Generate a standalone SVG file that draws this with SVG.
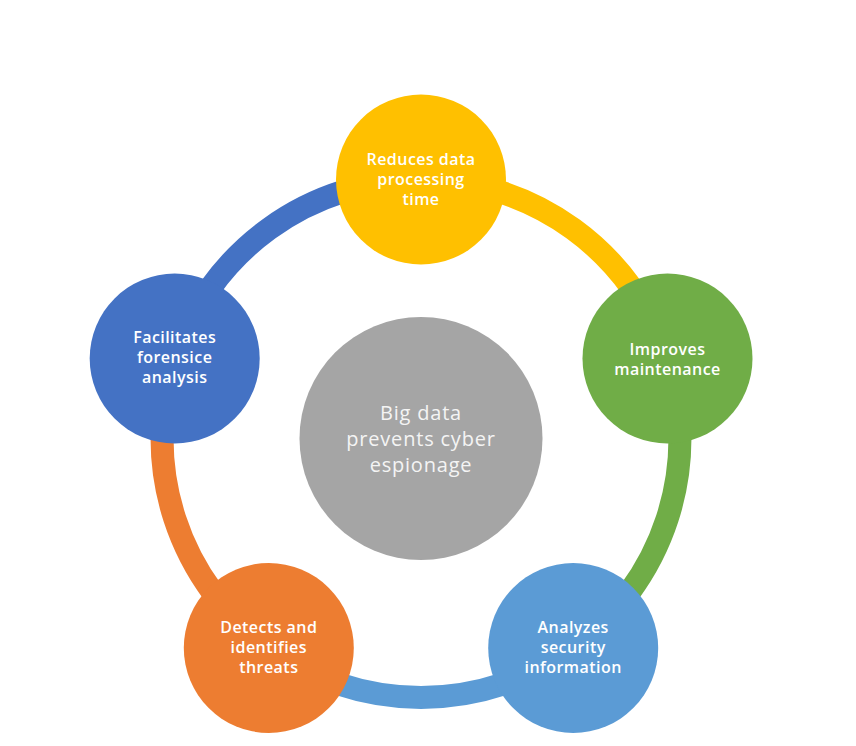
<svg xmlns="http://www.w3.org/2000/svg" width="856" height="746" viewBox="0 0 856 746">
<style>
.ring{fill:none;stroke-width:23;stroke-linecap:butt}
.lbl{font-family:"Open Sans","Noto Sans","Liberation Sans",sans-serif;font-size:16px;font-weight:600;letter-spacing:0.45px;fill:#ffffff;text-anchor:middle}
.ctr{font-family:"Open Sans","Noto Sans","Liberation Sans",sans-serif;font-size:20px;font-weight:400;letter-spacing:0.8px;fill:#f4f4f4;text-anchor:middle}
</style>
<rect width="856" height="746" fill="#ffffff"/>
<g id="connectors">
<path class="ring" stroke="#FFC000" d="M421 179.5 A259 259 0 0 1 667.3 358.5"/>
<path class="ring" stroke="#70AD47" d="M667.3 358.5 A259 259 0 0 1 573.2 648"/>
<path class="ring" stroke="#5B9BD5" d="M573.2 648 A259 259 0 0 1 268.8 648"/>
<path class="ring" stroke="#ED7D31" d="M268.8 648 A259 259 0 0 1 174.7 358.5"/>
<path class="ring" stroke="#4472C4" d="M174.7 358.5 A259 259 0 0 1 421 179.5"/>
</g>
<g id="center">
<circle cx="421" cy="438.5" r="121.5" fill="#A5A5A5"/>
<text class="ctr" x="421" y="420">Big data</text>
<text class="ctr" x="421" y="446">prevents cyber</text>
<text class="ctr" x="421" y="472">espionage</text>
</g>
<g id="node-reduces">
<circle cx="421" cy="179.5" r="85" fill="#FFC000"/>
<text class="lbl" x="421" y="165">Reduces data</text>
<text class="lbl" x="421" y="185">processing</text>
<text class="lbl" x="421" y="205">time</text>
</g>
<g id="node-improves">
<circle cx="667.5" cy="358.5" r="85" fill="#70AD47"/>
<text class="lbl" x="667.5" y="355">Improves</text>
<text class="lbl" x="667.5" y="375">maintenance</text>
</g>
<g id="node-analyzes">
<circle cx="573.2" cy="648" r="85" fill="#5B9BD5"/>
<text class="lbl" x="573.2" y="633">Analyzes</text>
<text class="lbl" x="573.2" y="653">security</text>
<text class="lbl" x="573.2" y="673">information</text>
</g>
<g id="node-detects">
<circle cx="268.8" cy="648" r="85" fill="#ED7D31"/>
<text class="lbl" x="268.8" y="633">Detects and</text>
<text class="lbl" x="268.8" y="653">identifies</text>
<text class="lbl" x="268.8" y="673">threats</text>
</g>
<g id="node-facilitates">
<circle cx="174.7" cy="358.5" r="85" fill="#4472C4"/>
<text class="lbl" x="174.7" y="343">Facilitates</text>
<text class="lbl" x="174.7" y="363">forensice</text>
<text class="lbl" x="174.7" y="383">analysis</text>
</g>
</svg>
